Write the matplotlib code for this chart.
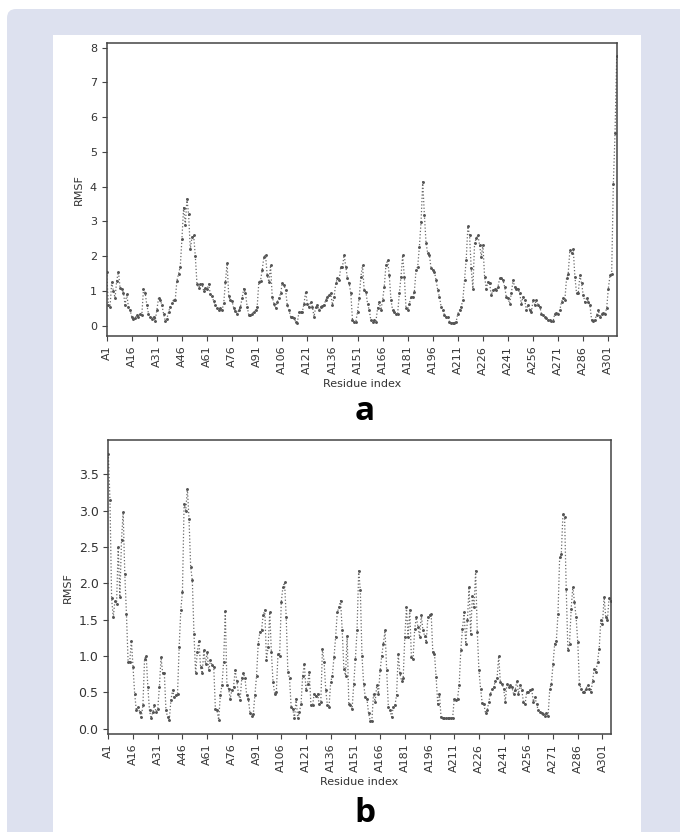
#!/usr/bin/env python3
"""RMSF per residue, panels a and b"""

import numpy as np
import matplotlib

matplotlib.use("Agg")
import matplotlib.pyplot as plt
from matplotlib.patches import FancyBboxPatch, Rectangle
from matplotlib.transforms import IdentityTransform

# RMSF values, residue A1 .. A306
rmsf_a = [
    1.55, 0.60, 0.55, 1.25, 1.00, 0.80, 1.30, 1.55, 1.10, 1.05,
    0.95, 0.60, 0.90, 0.55, 0.45, 0.25, 0.20, 0.22, 0.30, 0.25,
    0.35, 0.30, 1.05, 0.95, 0.60, 0.35, 0.25, 0.20, 0.25, 0.15,
    0.45, 0.80, 0.75, 0.60, 0.35, 0.15, 0.20, 0.40, 0.55, 0.65,
    0.75, 0.75, 1.30, 1.50, 1.70, 2.50, 3.40, 2.90, 3.65, 3.20,
    2.20, 2.55, 2.60, 2.00, 1.20, 1.10, 1.20, 1.20, 1.00, 1.10,
    1.05, 1.20, 0.90, 0.85, 0.70, 0.60, 0.50, 0.45, 0.50, 0.45,
    0.65, 1.25, 1.80, 0.85, 0.74, 0.70, 0.50, 0.42, 0.35, 0.45,
    0.55, 0.80, 1.07, 0.93, 0.55, 0.30, 0.30, 0.35, 0.40, 0.45,
    0.55, 1.26, 1.30, 1.60, 1.98, 2.03, 1.45, 1.26, 1.74, 0.83,
    0.64, 0.50, 0.69, 0.80, 0.93, 1.22, 1.17, 1.02, 0.60, 0.45,
    0.26, 0.24, 0.21, 0.12, 0.09, 0.40, 0.40, 0.40, 0.64, 0.98,
    0.64, 0.55, 0.69, 0.55, 0.26, 0.55, 0.60, 0.45, 0.55, 0.58,
    0.60, 0.74, 0.83, 0.88, 0.93, 0.60, 0.83, 1.22, 1.36, 1.31,
    1.70, 1.70, 2.03, 1.70, 1.36, 1.22, 0.93, 0.16, 0.12, 0.12,
    0.40, 0.79, 1.41, 1.74, 1.02, 0.98, 0.64, 0.45, 0.16, 0.12,
    0.16, 0.12, 0.50, 0.69, 0.45, 0.74, 1.12, 1.74, 1.89, 1.45,
    0.74, 0.45, 0.40, 0.35, 0.35, 0.93, 1.41, 2.03, 1.41, 0.50,
    0.45, 0.64, 0.83, 0.83, 0.98, 1.60, 1.70, 2.27, 2.99, 4.14,
    3.18, 2.37, 2.08, 2.03, 1.65, 1.60, 1.55, 1.31, 1.02, 0.83,
    0.55, 0.45, 0.31, 0.26, 0.26, 0.12, 0.09, 0.09, 0.09, 0.12,
    0.35, 0.45, 0.55, 0.74, 1.31, 1.89, 2.86, 2.60, 1.65, 1.07,
    2.37, 2.51, 2.60, 2.32, 1.98, 2.32, 1.41, 1.07, 1.26, 1.22,
    0.88, 1.02, 1.07, 1.02, 1.12, 1.36, 1.36, 1.31, 1.12, 0.83,
    0.79, 0.64, 0.93, 1.31, 1.12, 1.07, 1.07, 0.93, 0.64, 0.83,
    0.74, 0.45, 0.60, 0.45, 0.40, 0.74, 0.60, 0.74, 0.60, 0.55,
    0.35, 0.31, 0.26, 0.21, 0.16, 0.16, 0.14, 0.14, 0.35, 0.37,
    0.35, 0.45, 0.69, 0.79, 0.74, 1.36, 1.50, 2.17, 2.08, 2.22,
    1.41, 0.93, 0.93, 1.45, 1.22, 0.88, 0.69, 0.79, 0.69, 0.60,
    0.16, 0.14, 0.18, 0.31, 0.45, 0.24, 0.35, 0.37, 0.35, 0.50,
    1.07, 1.45, 1.50, 4.09, 5.53, 7.75,
]

rmsf_b = [
    3.78, 3.14, 1.79, 1.53, 1.76, 1.72, 2.50, 1.81, 2.59, 2.98,
    2.13, 1.58, 0.92, 0.92, 1.21, 0.85, 0.48, 0.25, 0.30, 0.23,
    0.16, 0.32, 0.96, 1.00, 0.57, 0.25, 0.14, 0.23, 0.32, 0.23,
    0.27, 0.57, 0.98, 0.76, 0.76, 0.25, 0.16, 0.12, 0.39, 0.53,
    0.43, 0.46, 0.47, 1.12, 1.63, 1.88, 3.09, 3.00, 3.30, 2.88,
    2.22, 2.04, 1.30, 0.76, 1.05, 1.21, 0.85, 0.76, 1.08, 0.89,
    1.05, 0.80, 0.94, 0.87, 0.85, 0.27, 0.25, 0.12, 0.46, 0.60,
    0.92, 1.62, 0.60, 0.55, 0.41, 0.53, 0.57, 0.80, 0.66, 0.48,
    0.39, 0.69, 0.76, 0.69, 0.46, 0.41, 0.22, 0.18, 0.20, 0.46,
    0.73, 1.17, 1.33, 1.35, 1.56, 1.63, 0.94, 1.12, 1.60, 1.05,
    0.64, 0.48, 0.50, 1.03, 1.00, 1.74, 1.95, 2.01, 1.53, 0.78,
    0.69, 0.30, 0.27, 0.14, 0.41, 0.14, 0.23, 0.34, 0.73, 0.89,
    0.53, 0.62, 0.78, 0.32, 0.32, 0.48, 0.45, 0.48, 0.34, 0.37,
    1.10, 0.92, 0.53, 0.32, 0.30, 0.64, 0.73, 0.98, 1.26, 1.60,
    1.67, 1.76, 1.35, 0.82, 0.73, 1.28, 0.34, 0.32, 0.27, 0.62,
    0.96, 1.35, 2.17, 1.90, 1.00, 0.62, 0.43, 0.41, 0.21, 0.11,
    0.11, 0.48, 0.37, 0.60, 0.48, 0.80, 1.00, 1.17, 1.35, 0.80,
    0.30, 0.25, 0.16, 0.30, 0.32, 0.46, 1.03, 0.76, 0.66, 0.69,
    1.26, 1.67, 1.26, 1.63, 0.98, 0.96, 1.37, 1.53, 1.40, 1.26,
    1.56, 1.35, 1.28, 1.19, 1.53, 1.56, 1.58, 1.05, 1.03, 0.71,
    0.34, 0.48, 0.16, 0.15, 0.15, 0.15, 0.14, 0.14, 0.15, 0.14,
    0.41, 0.40, 0.41, 0.60, 1.08, 1.37, 1.60, 1.17, 1.49, 1.95,
    1.30, 1.83, 1.67, 2.17, 1.33, 0.80, 0.55, 0.35, 0.34, 0.21,
    0.25, 0.37, 0.48, 0.55, 0.57, 0.66, 0.69, 1.00, 0.64, 0.62,
    0.55, 0.37, 0.62, 0.57, 0.60, 0.57, 0.48, 0.53, 0.66, 0.48,
    0.60, 0.53, 0.37, 0.34, 0.50, 0.50, 0.53, 0.55, 0.37, 0.43,
    0.34, 0.25, 0.23, 0.21, 0.20, 0.18, 0.21, 0.18, 0.55, 0.62,
    0.89, 1.17, 1.21, 1.58, 2.36, 2.40, 2.95, 2.91, 1.92, 1.08,
    1.17, 1.65, 1.95, 1.74, 1.53, 1.19, 0.62, 0.55, 0.50, 0.50,
    0.55, 0.60, 0.55, 0.50, 0.66, 0.82, 0.78, 0.92, 1.10, 1.49,
    1.44, 1.81, 1.53, 1.49, 1.80, 1.75,
]

residues = [f"A{i + 1}" for i in range(len(rmsf_a))]
tick_step = 15

TEXT = "#333333"
LINE = "#6a6a6a"


def drawPanel(ax, values, ytickSize):
    """One RMSF trace"""
    idx = np.arange(len(values))
    ax.plot(idx, values, linestyle=":", color=LINE, linewidth=0.9,
            marker=".", markersize=2.2, markerfacecolor="#555555",
            markeredgecolor="#555555")
    ax.set_xlim(0, len(values) - 1)
    ax.margins(y=0.05)
    ticks = idx[::tick_step]
    ax.set_xticks(ticks)
    ax.set_xticklabels([residues[i] for i in ticks], rotation=90)
    ax.set_xlabel("Residue index", fontsize=8, color=TEXT, labelpad=3)
    ax.set_ylabel("RMSF", fontsize=8, color=TEXT)
    ax.tick_params(axis="x", labelsize=8, colors="#444444", labelcolor=TEXT)
    ax.tick_params(axis="y", labelsize=ytickSize, colors="#444444", labelcolor=TEXT)
    for sp in ax.spines.values():
        sp.set_color("#444444")
        sp.set_linewidth(1.1)


fig = plt.figure(figsize=(6.8, 8.32), dpi=100)
fig.patch.set_facecolor("white")

# lavender frame and white sheet behind the panels
fig.add_artist(FancyBboxPatch((7, -30), 720, 853,
                              boxstyle="round,pad=0,rounding_size=9",
                              transform=IdentityTransform(),
                              facecolor="#dde1ef", edgecolor="none", zorder=-20))
fig.add_artist(Rectangle((53, -10), 588, 807, transform=IdentityTransform(),
                         facecolor="white", edgecolor="none", zorder=-10))

axA = fig.add_axes([0.1569, 0.5962, 0.75, 0.3522])
drawPanel(axA, rmsf_a, 8)
axB = fig.add_axes([0.1593, 0.1178, 0.7388, 0.3528])
drawPanel(axB, rmsf_b, 9)

fig.text(365 / 680, 1 - 420 / 832, "a", ha="center", va="baseline",
         fontsize=24, fontweight="bold", family="Open Sans", color="black")
fig.text(365 / 680, 1 - 822 / 832, "b", ha="center", va="baseline",
         fontsize=24, fontweight="bold", family="Open Sans", color="black")

fig.savefig("out.png", dpi=100)
